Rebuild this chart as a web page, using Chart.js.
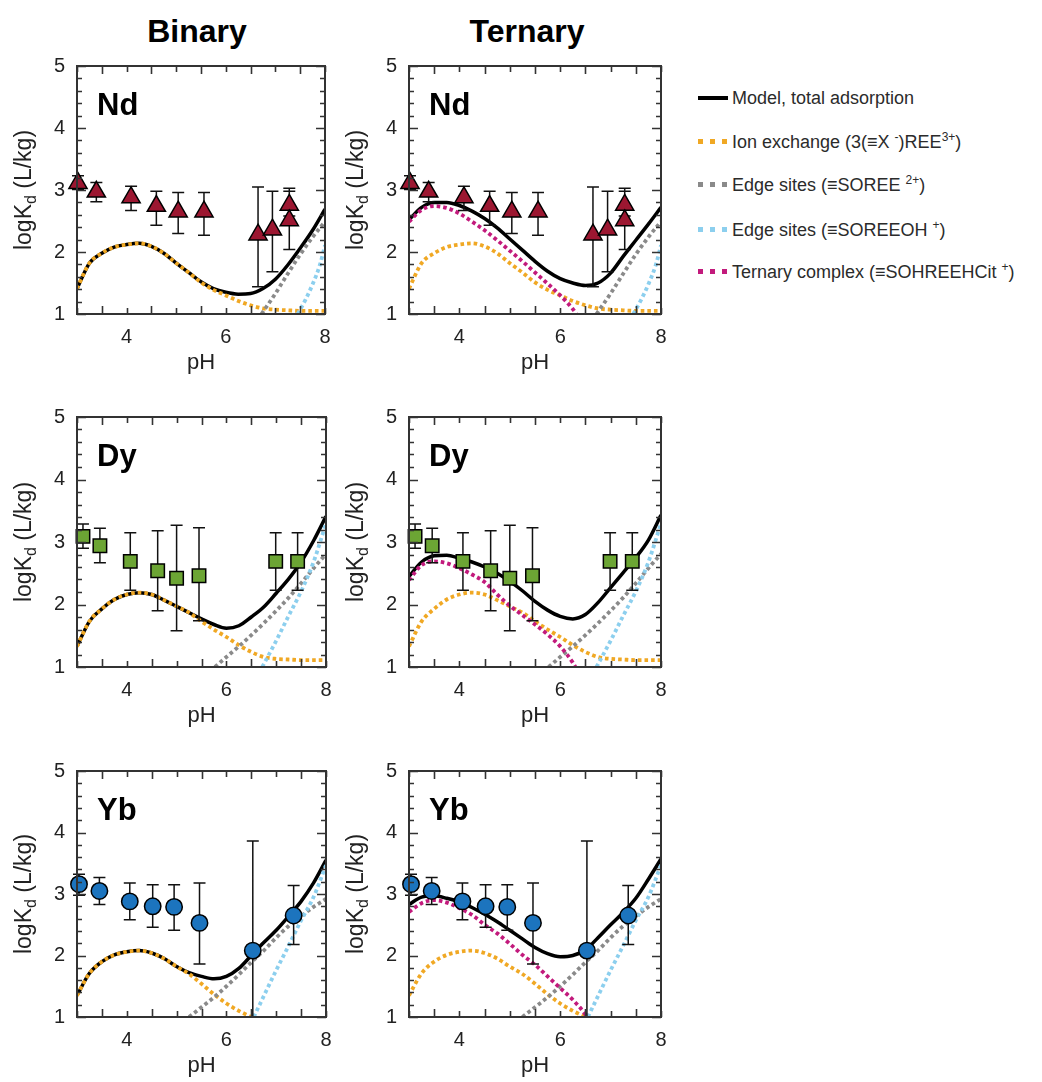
<!DOCTYPE html>
<html>
<head>
<meta charset="utf-8">
<script src="https://cdn.jsdelivr.net/npm/chart.js@4.4.1/dist/chart.umd.min.js"></script>
<style>
  html, body { margin: 0; padding: 0; background: #fff; }
  body { width: 1042px; height: 1082px; position: relative; overflow: hidden;
         font-family: 'Liberation Sans', Arial, sans-serif; }
  canvas.panel { position: absolute; }
  .col-title { position: absolute; width: 300px; text-align: center; font-weight: bold;
               font-size: 32px; line-height: 32px; color: #000; }
  .leg-row { position: absolute; left: 698px; height: 24px; line-height: 24px; white-space: nowrap;
             font-size: 18px; color: #2b2b2b; }
  .leg-row .txt { position: absolute; left: 34px; top: 0; }
  .leg-row sup { font-size: 12px; line-height: 0; vertical-align: 7px; }
  .leg-row .swatch { position: absolute; left: 0; width: 30px; }
  .solid { top: 10px; height: 4px; background: #000; }
  .dots { top: 9px; height: 5px; }
</style>
</head>
<body>
<div class="col-title" style="left:47px; top:15px;">Binary</div>
<div class="col-title" style="left:377px; top:15px;">Ternary</div>

<canvas class="panel" id="ndBinary"></canvas>
<canvas class="panel" id="ndTernary"></canvas>
<canvas class="panel" id="dyBinary"></canvas>
<canvas class="panel" id="dyTernary"></canvas>
<canvas class="panel" id="ybBinary"></canvas>
<canvas class="panel" id="ybTernary"></canvas>

<div class="leg-row" style="top:86px;"><div class="swatch solid"></div><span class="txt">Model, total adsorption</span></div>
<div class="leg-row" style="top:130px;"><div class="swatch dots" id="swIon"></div><span class="txt">Ion exchange (3(≡X <sup>-</sup>)REE<sup>3+</sup>)</span></div>
<div class="leg-row" style="top:173px;"><div class="swatch dots" id="swEdge"></div><span class="txt">Edge sites (≡SOREE <sup>2+</sup>)</span></div>
<div class="leg-row" style="top:218px;"><div class="swatch dots" id="swEdgeOH"></div><span class="txt">Edge sites (≡SOREEOH <sup>+</sup>)</span></div>
<div class="leg-row" style="top:260px;"><div class="swatch dots" id="swComplex"></div><span class="txt">Ternary complex (≡SOHREEHCit <sup>+</sup>)</span></div>

<script>
// ---------- shared pH grid for model curves ----------
const PH_GRID = [3.0, 3.25, 3.5, 3.75, 4.0, 4.25, 4.5, 4.75, 5.0, 5.25, 5.5, 5.75, 6.0, 6.25, 6.5, 6.75, 7.0, 7.25, 7.5, 7.75, 8.0];

// ---------- Nd ----------
const ndPH      = [3.02, 3.39, 4.09, 4.60, 5.04, 5.56, 6.65, 6.94, 7.28, 7.28];
const ndLogKd   = [3.11, 2.97, 2.88, 2.74, 2.65, 2.65, 2.28, 2.36, 2.76, 2.51];
const ndErrHigh = [3.23, 3.12, 3.06, 2.98, 2.96, 2.96, 3.05, 2.98, 2.98, 3.03];
const ndErrLow  = [3.01, 2.81, 2.67, 2.43, 2.30, 2.27, 1.44, 1.68, 2.58, 2.04];
const ndModelBinary  = [1.41, 1.82, 1.98, 2.08, 2.12, 2.14, 2.09, 1.98, 1.82, 1.67, 1.52, 1.41, 1.35, 1.32, 1.33, 1.41, 1.56, 1.79, 2.06, 2.35, 2.69];
const ndModelTernary = [2.52, 2.72, 2.80, 2.80, 2.75, 2.66, 2.54, 2.39, 2.21, 2.03, 1.85, 1.69, 1.57, 1.50, 1.46, 1.50, 1.66, 1.93, 2.19, 2.45, 2.72];
const ndIonExchange  = [1.41, 1.82, 1.98, 2.08, 2.12, 2.14, 2.09, 1.98, 1.82, 1.67, 1.51, 1.39, 1.30, 1.21, 1.14, 1.09, 1.07, 1.06, 1.05, 1.05, 1.05];
const ndEdgePH    = [6.72, 7.0, 7.25, 7.5, 7.75, 8.0];
const ndEdge      = [1.0, 1.33, 1.65, 1.96, 2.24, 2.49];
const ndEdgeOHPH  = [7.45, 7.6, 7.75, 7.9, 8.0];
const ndEdgeOH    = [1.0, 1.22, 1.48, 1.80, 2.11];
const ndComplexPH = [3.0, 3.25, 3.5, 3.75, 4.0, 4.25, 4.5, 4.75, 5.0, 5.25, 5.5, 5.75, 6.0, 6.25, 6.32];
const ndComplex   = [2.49, 2.68, 2.74, 2.71, 2.62, 2.49, 2.35, 2.19, 2.02, 1.85, 1.67, 1.49, 1.30, 1.08, 1.0];

// ---------- Dy ----------
const dyPH      = [3.12, 3.46, 4.07, 4.62, 5.00, 5.45, 6.99, 7.43];
const dyLogKd   = [3.09, 2.94, 2.69, 2.54, 2.42, 2.46, 2.69, 2.69];
const dyErrHigh = [3.29, 3.22, 3.15, 3.18, 3.27, 3.23, 3.15, 3.15];
const dyErrLow  = [2.90, 2.67, 2.23, 1.90, 1.58, 1.74, 2.23, 2.23];
const dyModelBinary  = [1.33, 1.73, 1.93, 2.08, 2.16, 2.19, 2.16, 2.07, 1.97, 1.87, 1.77, 1.68, 1.62, 1.66, 1.80, 1.96, 2.18, 2.41, 2.68, 3.02, 3.41];
const dyModelTernary = [2.45, 2.68, 2.78, 2.79, 2.74, 2.68, 2.60, 2.50, 2.37, 2.22, 2.05, 1.91, 1.81, 1.77, 1.84, 2.03, 2.27, 2.51, 2.75, 3.03, 3.43];
const dyIonExchange  = [1.33, 1.73, 1.93, 2.08, 2.16, 2.19, 2.16, 2.07, 1.97, 1.87, 1.73, 1.60, 1.48, 1.35, 1.24, 1.16, 1.13, 1.12, 1.11, 1.11, 1.11];
const dyEdgePH    = [5.77, 6.0, 6.25, 6.5, 6.75, 7.0, 7.25, 7.5, 7.75, 8.0];
const dyEdge      = [1.0, 1.16, 1.33, 1.51, 1.70, 1.90, 2.11, 2.34, 2.58, 2.81];
const dyEdgeOHPH  = [6.72, 7.0, 7.25, 7.5, 7.75, 8.0];
const dyEdgeOH    = [1.0, 1.42, 1.82, 2.21, 2.68, 3.30];
const dyComplexPH = [3.0, 3.25, 3.5, 3.75, 4.0, 4.25, 4.5, 4.75, 5.0, 5.25, 5.5, 5.75, 6.0, 6.25, 6.3];
const dyComplex   = [2.39, 2.63, 2.69, 2.66, 2.58, 2.48, 2.36, 2.16, 1.98, 1.83, 1.68, 1.52, 1.33, 1.07, 1.0];

// ---------- Yb ----------
const ybPH      = [3.04, 3.45, 4.06, 4.52, 4.95, 5.46, 6.53, 7.35];
const ybLogKd   = [3.16, 3.05, 2.88, 2.80, 2.79, 2.53, 2.08, 2.65];
const ybErrHigh = [3.32, 3.27, 3.18, 3.15, 3.15, 3.18, 3.86, 3.14];
const ybErrLow  = [2.98, 2.83, 2.58, 2.46, 2.41, 1.86, 1.00, 2.18];
const ybModelBinary  = [1.35, 1.71, 1.90, 2.01, 2.06, 2.08, 2.04, 1.95, 1.82, 1.72, 1.66, 1.62, 1.66, 1.79, 2.00, 2.21, 2.41, 2.64, 2.88, 3.18, 3.55];
const ybModelTernary = [2.83, 2.95, 2.97, 2.93, 2.87, 2.78, 2.67, 2.55, 2.41, 2.27, 2.13, 2.03, 1.98, 2.00, 2.09, 2.29, 2.50, 2.70, 2.93, 3.24, 3.57];
const ybIonExchangePH = [3.0, 3.25, 3.5, 3.75, 4.0, 4.25, 4.5, 4.75, 5.0, 5.25, 5.5, 5.75, 6.0, 6.25, 6.5];
const ybIonExchange   = [1.35, 1.71, 1.90, 2.01, 2.06, 2.08, 2.04, 1.95, 1.82, 1.70, 1.54, 1.37, 1.22, 1.10, 1.0];
const ybEdgePH    = [5.25, 5.5, 5.75, 6.0, 6.25, 6.5, 6.75, 7.0, 7.25, 7.5, 7.75, 8.0];
const ybEdge      = [1.0, 1.16, 1.32, 1.50, 1.69, 1.89, 2.08, 2.29, 2.48, 2.64, 2.79, 2.92];
const ybEdgeOHPH  = [6.55, 6.75, 7.0, 7.25, 7.5, 7.75, 8.0];
const ybEdgeOH    = [1.0, 1.34, 1.76, 2.16, 2.57, 2.95, 3.47];
const ybComplexPH = [3.0, 3.25, 3.5, 3.75, 4.0, 4.25, 4.5, 4.75, 5.0, 5.25, 5.5, 5.75, 6.0, 6.25, 6.5, 6.53];
const ybComplex   = [2.71, 2.85, 2.90, 2.86, 2.77, 2.66, 2.50, 2.36, 2.19, 2.01, 1.85, 1.66, 1.47, 1.28, 1.04, 1.0];

// ---------- axis ticks ----------
const X_TICK_LABELS = [4, 6, 8];
const Y_TICK_LABELS = [1, 2, 3, 4, 5];

// ---------- styling ----------
const FONT = "'Liberation Sans', Arial, sans-serif";
const COLORS = {
  model: '#000000',
  ion: '#F0A824',
  edge: '#8A8A8A',
  edgeOH: '#8CCFEE',
  complex: '#C21A7C'
};
const MARKERS = {
  Nd: { style: 'triangle', radius: 10.5, fill: '#9C1731' },
  Dy: { style: 'rect', radius: 9.5, fill: '#6CA534' },
  Yb: { style: 'circle', radius: 8.2, fill: '#1C74BE' }
};

// legend swatches
function dotSwatch(id, color) {
  document.getElementById(id).style.background =
    'repeating-linear-gradient(to right, ' + color + ' 0 5px, transparent 5px 12px)';
}
dotSwatch('swIon', COLORS.ion);
dotSwatch('swEdge', COLORS.edge);
dotSwatch('swEdgeOH', COLORS.edgeOH);
dotSwatch('swComplex', COLORS.complex);

function pts(xs, ys) { return xs.map((x, i) => ({ x: x, y: ys[i] })); }

// frame, inward ticks, element label and y-axis title
const panelDecor = {
  id: 'panelDecor',
  afterDraw(chart, args, opts) {
    const { ctx, chartArea: a, scales: { x, y } } = chart;
    ctx.save();
    ctx.strokeStyle = '#333';
    ctx.lineWidth = 1.6;
    ctx.beginPath();
    for (let k = 0; k <= 20; k++) {
      const v = 1 + k * 0.2;
      const py = Math.round(y.getPixelForValue(v)) + 0.5;
      const len = (k % 5 === 0) ? 9 : 5;
      ctx.moveTo(a.left, py); ctx.lineTo(a.left + len, py);
      ctx.moveTo(a.right, py); ctx.lineTo(a.right - len, py);
    }
    for (let k = 0; k <= 10; k++) {
      const v = 3 + k * 0.5;
      const px = Math.round(x.getPixelForValue(v)) + 0.5;
      const len = (k % 2 === 0) ? 6 : 8;
      ctx.moveTo(px, a.bottom); ctx.lineTo(px, a.bottom - len);
      ctx.moveTo(px, a.top); ctx.lineTo(px, a.top + len);
    }
    ctx.stroke();
    ctx.lineWidth = 2;
    ctx.strokeRect(a.left, a.top, a.right - a.left, a.bottom - a.top);

    // element label
    ctx.fillStyle = '#000';
    ctx.font = 'bold 31px ' + FONT;
    ctx.textAlign = 'left';
    ctx.textBaseline = 'alphabetic';
    ctx.fillText(opts.element, a.left + 20, a.top + 49);

    // rotated y title: logK_d (L/kg)
    const mainFont = '23px ' + FONT, subFont = '16px ' + FONT;
    ctx.font = mainFont; const w1 = ctx.measureText('logK').width;
    ctx.font = subFont;  const w2 = ctx.measureText('d').width;
    ctx.font = mainFont; const w3 = ctx.measureText(' (L/kg)').width;
    const total = w1 + w2 + w3;
    ctx.translate(a.left - 46, (a.top + a.bottom) / 2);
    ctx.rotate(-Math.PI / 2);
    ctx.fillStyle = '#222';
    let cx = -total / 2;
    ctx.font = mainFont; ctx.fillText('logK', cx, 0); cx += w1;
    ctx.font = subFont;  ctx.fillText('d', cx, 5); cx += w2;
    ctx.font = mainFont; ctx.fillText(' (L/kg)', cx, 0);
    ctx.restore();
  }
};

// error bars under the measured markers
const errorBars = {
  id: 'errorBars',
  beforeDatasetDraw(chart, args) {
    const ds = chart.data.datasets[args.index];
    if (!ds.errLow) return;
    const { ctx, scales: { x, y } } = chart;
    ctx.save();
    ctx.strokeStyle = '#111';
    ctx.lineWidth = 1.5;
    ctx.beginPath();
    ds.data.forEach((p, i) => {
      const px = x.getPixelForValue(p.x);
      const hi = y.getPixelForValue(ds.errHigh[i]);
      const lo = y.getPixelForValue(ds.errLow[i]);
      ctx.moveTo(px, hi); ctx.lineTo(px, lo);
      ctx.moveTo(px - 6, hi); ctx.lineTo(px + 6, hi);
      ctx.moveTo(px - 6, lo); ctx.lineTo(px + 6, lo);
    });
    ctx.stroke();
    ctx.restore();
  }
};

function curve(data, color, order, dotted) {
  return {
    data: data,
    showLine: true,
    borderColor: color,
    borderWidth: dotted ? 3.8 : 3.5,
    borderDash: dotted ? [3.6, 3] : [],
    borderCapStyle: 'butt',
    pointRadius: 0,
    cubicInterpolationMode: 'monotone',
    fill: false,
    order: order
  };
}

const PAD_L = 77, PAD_T = 16, PAD_R = 15, AX_H = 62;

// keep the plot area exactly where the layout asks for it
function zeroPadding(s) { s.paddingTop = 0; s.paddingBottom = 0; s.paddingLeft = 0; s.paddingRight = 0; }

function buildPanel(id, box, element, m) {
  const canvas = document.getElementById(id);
  canvas.width = PAD_L + box.w + PAD_R;
  canvas.height = PAD_T + box.h + AX_H;
  canvas.style.left = (box.left - PAD_L) + 'px';
  canvas.style.top = (box.top - PAD_T) + 'px';

  const mk = MARKERS[element];
  const datasets = [{
    data: pts(m.ph, m.logKd),
    errHigh: m.errHigh,
    errLow: m.errLow,
    showLine: false,
    pointStyle: mk.style,
    pointRadius: mk.radius,
    backgroundColor: mk.fill,
    borderColor: '#000',
    borderWidth: 1.5,
    clip: false,
    order: 0
  }];
  if (m.complex) datasets.push(curve(m.complex, COLORS.complex, 1, true));
  datasets.push(curve(m.edgeOH, COLORS.edgeOH, 2, true));
  datasets.push(curve(m.edge, COLORS.edge, 3, true));
  datasets.push(curve(m.ion, COLORS.ion, 4, true));
  datasets.push(curve(m.model, COLORS.model, 5, false));

  new Chart(canvas, {
    type: 'scatter',
    data: { datasets: datasets },
    options: {
      responsive: false,
      animation: false,
      devicePixelRatio: 1,
      layout: { autoPadding: false, padding: { left: 0, top: PAD_T, right: PAD_R, bottom: 0 } },
      plugins: {
        legend: { display: false },
        tooltip: { enabled: false },
        panelDecor: { element: element }
      },
      scales: {
        x: {
          type: 'linear', min: 3, max: 8,
          afterBuildTicks(s) { s.ticks = X_TICK_LABELS.map(v => ({ value: v })); },
          afterFit(s) { s.height = AX_H; zeroPadding(s); },
          grid: { display: false, drawTicks: false },
          border: { display: false },
          ticks: { font: { size: 20, family: FONT }, color: '#222', padding: 11, maxRotation: 0, autoSkip: false },
          title: { display: true, text: 'pH', font: { size: 22, family: FONT }, color: '#222', padding: { top: 0, bottom: 0 } }
        },
        y: {
          type: 'linear', min: 1, max: 5,
          afterBuildTicks(s) { s.ticks = Y_TICK_LABELS.map(v => ({ value: v })); },
          afterFit(s) { s.width = PAD_L; zeroPadding(s); },
          grid: { display: false, drawTicks: false },
          border: { display: false },
          ticks: { font: { size: 20, family: FONT }, color: '#222', padding: 12, autoSkip: false }
        }
      }
    },
    plugins: [panelDecor, errorBars]
  });
}

const ndMeasured = { ph: ndPH, logKd: ndLogKd, errHigh: ndErrHigh, errLow: ndErrLow };
const dyMeasured = { ph: dyPH, logKd: dyLogKd, errHigh: dyErrHigh, errLow: dyErrLow };
const ybMeasured = { ph: ybPH, logKd: ybLogKd, errHigh: ybErrHigh, errLow: ybErrLow };

const ndParts = { ion: pts(PH_GRID, ndIonExchange), edge: pts(ndEdgePH, ndEdge), edgeOH: pts(ndEdgeOHPH, ndEdgeOH) };
const dyParts = { ion: pts(PH_GRID, dyIonExchange), edge: pts(dyEdgePH, dyEdge), edgeOH: pts(dyEdgeOHPH, dyEdgeOH) };
const ybParts = { ion: pts(ybIonExchangePH, ybIonExchange), edge: pts(ybEdgePH, ybEdge), edgeOH: pts(ybEdgeOHPH, ybEdgeOH) };

buildPanel('ndBinary',  { left: 77,  top: 66,  w: 248, h: 248 }, 'Nd',
  Object.assign({}, ndMeasured, ndParts, { model: pts(PH_GRID, ndModelBinary) }));
buildPanel('ndTernary', { left: 409, top: 66,  w: 252, h: 248 }, 'Nd',
  Object.assign({}, ndMeasured, ndParts, { model: pts(PH_GRID, ndModelTernary), complex: pts(ndComplexPH, ndComplex) }));
buildPanel('dyBinary',  { left: 77,  top: 417, w: 249, h: 250 }, 'Dy',
  Object.assign({}, dyMeasured, dyParts, { model: pts(PH_GRID, dyModelBinary) }));
buildPanel('dyTernary', { left: 409, top: 417, w: 252, h: 250 }, 'Dy',
  Object.assign({}, dyMeasured, dyParts, { model: pts(PH_GRID, dyModelTernary), complex: pts(dyComplexPH, dyComplex) }));
buildPanel('ybBinary',  { left: 77,  top: 771, w: 249, h: 246 }, 'Yb',
  Object.assign({}, ybMeasured, ybParts, { model: pts(PH_GRID, ybModelBinary) }));
buildPanel('ybTernary', { left: 409, top: 771, w: 252, h: 246 }, 'Yb',
  Object.assign({}, ybMeasured, ybParts, { model: pts(PH_GRID, ybModelTernary), complex: pts(ybComplexPH, ybComplex) }));
</script>
</body>
</html>
